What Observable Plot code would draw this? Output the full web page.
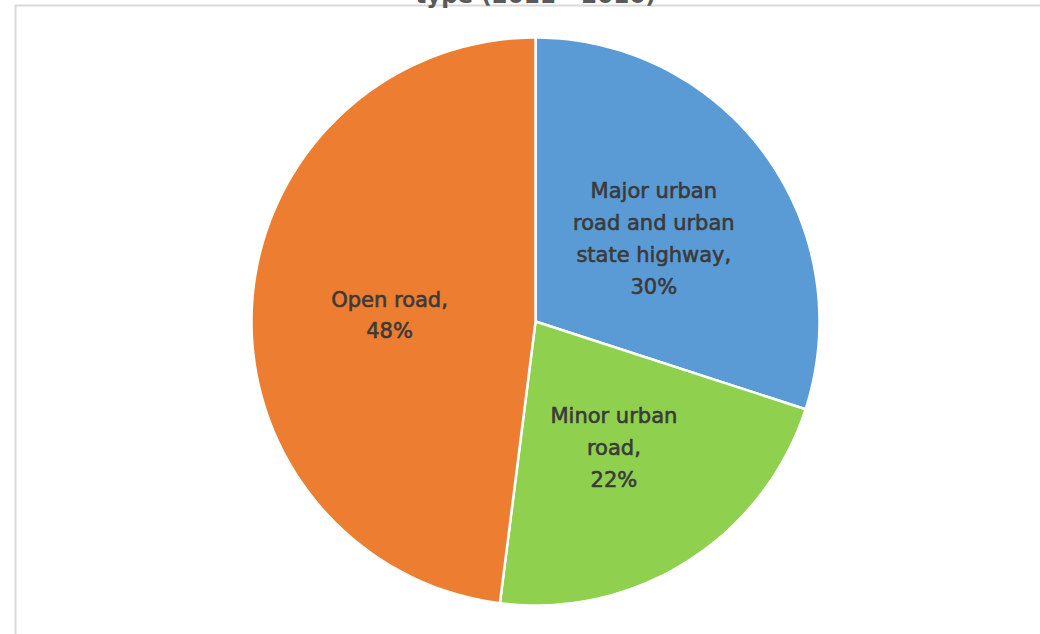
<!DOCTYPE html>
<html>
<head>
<meta charset="utf-8">
<script src="https://cdn.jsdelivr.net/npm/d3@7"></script>
<script src="https://cdn.jsdelivr.net/npm/@observablehq/plot@0.6"></script>
<style>
  html, body { margin: 0; padding: 0; background: #fff; }
  #chart svg { display: block; }
</style>
</head>
<body>
<div id="chart"></div>
<script>
// ---- data ----
const categories = ["Major urban road and urban state highway", "Minor urban road", "Open road"];
const values = [30, 22, 48];
const labelLines = ["Major urban\nroad and urban\nstate highway,", "Minor urban\nroad,", "Open road,"];
const colors = ["#5B9BD5", "#8FD14F", "#ED7D31"];
const titleText = "type (2011 - 2016)";

// ---- geometry from values (angles clockwise from 12 o'clock) ----
const total = d3.sum(values);
const slices = [];
const labels = [];
let start = 0;
values.forEach((v, i) => {
  const a0 = start, a1 = start + (v / total) * 2 * Math.PI;
  const n = Math.max(2, Math.ceil((a1 - a0) / (Math.PI / 180)));
  slices.push({cat: categories[i], x: 0, y: 0});
  for (let k = 0; k <= n; k++) {
    const a = a0 + (a1 - a0) * k / n;
    slices.push({cat: categories[i], x: Math.sin(a), y: Math.cos(a)});
  }
  slices.push({cat: categories[i], x: 0, y: 0});
  const mid = (a0 + a1) / 2;
  labels.push({text: labelLines[i] + "\n" + v + "%", x: 0.515 * Math.sin(mid), y: 0.515 * Math.cos(mid)});
  start = a1;
});

const chart = Plot.plot({
  width: 1040,
  height: 634,
  marginLeft: 251,
  marginRight: 221,
  marginTop: 37,
  marginBottom: 29,
  x: {domain: [-1, 1], axis: null},
  y: {domain: [-1, 1], axis: null},
  color: {domain: categories, range: colors},
  style: {background: "#fff"},
  marks: [
    Plot.frame({stroke: "#d9d9d9", strokeWidth: 2, insetLeft: -236, insetTop: -32, insetRight: -240, insetBottom: -40}),
    Plot.line(slices, {x: "x", y: "y", z: "cat", fill: "cat", stroke: "#fff", strokeWidth: 2.5, strokeLinejoin: "round", curve: "linear"}),
    Plot.text(labels, {x: "x", y: "y", text: "text", fill: "#3a3a3a", stroke: "#3a3a3a", strokeWidth: 0.6, fontSize: 21, lineHeight: 1.52, fontFamily: "DejaVu Sans"}),
    Plot.text([titleText], {text: d => d, frameAnchor: "top", lineAnchor: "bottom", dy: -35, fill: "#595959", fontSize: 23, fontWeight: "bold", fontFamily: "DejaVu Sans"})
  ]
});
document.getElementById("chart").appendChild(chart);
</script>
</body>
</html>
